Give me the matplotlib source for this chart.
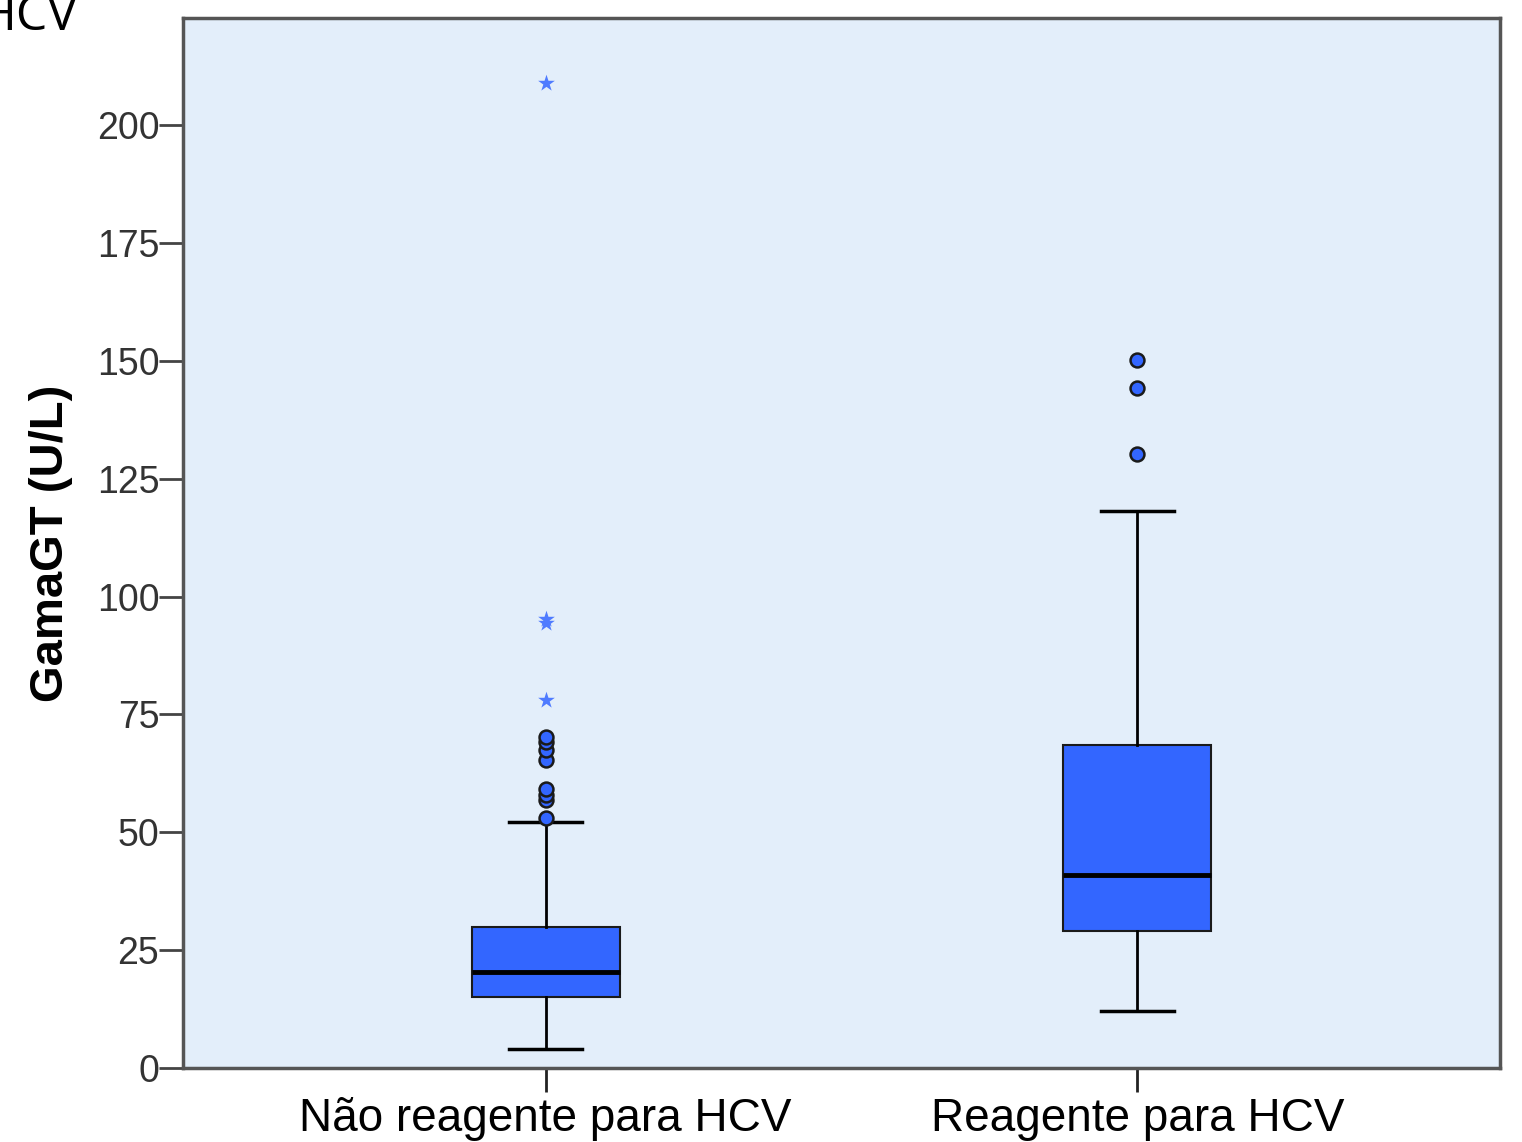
import numpy as np
import matplotlib.pyplot as plt

# Group labels and box statistics
groups = ['Não reagente para HCV', 'Reagente para HCV']
whislo = [4.0, 12.1]
q1 = [15.1, 29.1]
med = [20.4, 40.9]
q3 = [29.9, 68.5]
whishi = [52.2, 118.1]

# Outliers (circles) and extremes (stars)
outliers_1 = [53.0, 56.8, 57.9, 59.2, 65.3, 67.4, 69.1, 70.2]
outliers_2 = [130.2, 144.2, 150.2]
extremes_1 = [78.0, 94.4, 95.2, 209.0]
extremes_2 = []

yticks = [0, 25, 50, 75, 100, 125, 150, 175, 200]

fig = plt.figure(figsize=(15.22, 11.42), dpi=100)
ax = fig.add_axes([0.1202, 0.0648, 0.8654, 0.9194])
ax.set_facecolor('#E3EEFA')

stats = []
for i in range(2):
    stats.append({'whislo': whislo[i], 'q1': q1[i], 'med': med[i],
                  'q3': q3[i], 'whishi': whishi[i],
                  'fliers': [outliers_1, outliers_2][i]})

pos = [1, 2]
ax.bxp(stats, positions=pos, widths=0.25, patch_artist=True,
       showfliers=True,
       boxprops=dict(facecolor='#3366FF', edgecolor='#1a1a1a', linewidth=1.5),
       medianprops=dict(color='black', linewidth=3.5),
       whiskerprops=dict(color='black', linewidth=2),
       capprops=dict(color='black', linewidth=2.5),
       capwidths=0.123,
       flierprops=dict(marker='o', markerfacecolor='#3366FF',
                       markeredgecolor='#1a1a1a', markersize=10,
                       markeredgewidth=1.8))

for p, ext in zip(pos, [extremes_1, extremes_2]):
    if ext:
        ax.scatter([p] * len(ext), ext, marker='*', s=160,
                   color='#4F7BFF', zorder=4, linewidths=0)

ax.set_xlim(0.387, 2.613)
ax.set_ylim(0, 222.7)
ax.set_yticks(yticks)
ax.set_yticklabels([str(t) for t in yticks], fontsize=27, color='#333333',
                   family='Liberation Sans')
ax.set_xticks(pos)
ax.set_xticklabels(groups, fontsize=33, family='Liberation Sans')
ax.tick_params(axis='y', length=17, width=2, color='#444444', pad=0)
ax.tick_params(axis='x', length=17, width=2, color='#222222', pad=4)

for s in ax.spines.values():
    s.set_color('#555555')
    s.set_linewidth(2.5)

ax.set_ylabel('GamaGT (U/L)', fontsize=34, fontweight='bold',
              family='Liberation Sans', labelpad=17)

# leftover clipped text at top-left
fig.text(-0.014, 0.974, 'HCV', fontsize=36, family='Open Sans',
         ha='left', va='baseline')

fig.savefig('out.png', dpi=100)
